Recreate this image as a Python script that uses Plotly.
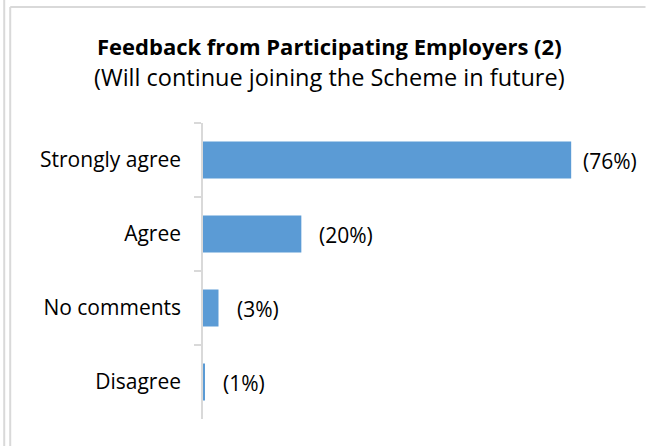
import plotly.graph_objects as go

categories = ["Strongly agree", "Agree", "No comments", "Disagree"]
values = [76.0, 20.3, 3.2, 0.3]
labels = ["(76%)", "(20%)", "(3%)", "(1%)"]
title_text = "Feedback from Participating Employers (2)"
subtitle_text = "(Will continue joining the Scheme in future)"

W, H = 646, 446
L, R, T, B = 203, 6.5, 123, 27
PW, PH = W - L - R, H - T - B
FONT = "Open Sans"
GRAY = "#d9d9d9"

def px_x(px):
    return (px - L) / PW

def px_y(py):
    return (H - B - py) / PH

fig = go.Figure(go.Bar(
    x=values, y=categories, orientation="h",
    marker=dict(color="#5b9bd5", line=dict(width=0)),
    hoverinfo="skip",
))

label_shift = [10, 16, 16, 17]
annotations = []
for v, c, t, s in zip(values, categories, labels, label_shift):
    annotations.append(dict(x=v, y=c, xref="x", yref="y", text=t, showarrow=False,
                            xanchor="left", yanchor="middle", xshift=s, yshift=-1,
                            font=dict(family=FONT, size=21, color="#000000")))
annotations.append(dict(
    x=px_x(330), y=px_y(62), xref="paper", yref="paper",
    text="<span style='font-size:22px'><b>" + title_text + "</b></span><br>" + subtitle_text,
    showarrow=False, xanchor="center", yanchor="middle", align="center",
    font=dict(family=FONT, size=23.5, color="#000000")))

shapes = [
    dict(type="line", xref="paper", yref="paper", x0=px_x(4), x1=px_x(4), y0=px_y(0), y1=px_y(H), line=dict(color=GRAY, width=2)),
    dict(type="line", xref="paper", yref="paper", x0=px_x(10), x1=px_x(10), y0=px_y(7), y1=px_y(H), line=dict(color=GRAY, width=2)),
    dict(type="line", xref="paper", yref="paper", x0=px_x(10), x1=px_x(W), y0=px_y(7), y1=px_y(7), line=dict(color=GRAY, width=2)),
]

fig.update_layout(
    width=W, height=H,
    margin=dict(l=L, r=R, t=T, b=B, pad=0),
    paper_bgcolor="#ffffff", plot_bgcolor="#ffffff",
    showlegend=False,
    bargap=0.5,
    annotations=annotations,
    shapes=shapes,
    xaxis=dict(range=[0, 90], visible=False, fixedrange=True),
    yaxis=dict(
        autorange="reversed", type="category",
        showline=True, linecolor=GRAY, linewidth=1.5,
        ticks="outside", tickson="boundaries", ticklen=7, tickcolor=GRAY, tickwidth=1.5,
        ticklabelstandoff=16,
        tickfont=dict(family=FONT, size=21, color="#000000"),
        showgrid=False, zeroline=False, fixedrange=True,
    ),
)

fig.write_html("out.html", config={"displayModeBar": False},
               post_script="document.documentElement.style.overflow='hidden';document.body.style.margin='0';document.body.style.overflow='hidden';")
